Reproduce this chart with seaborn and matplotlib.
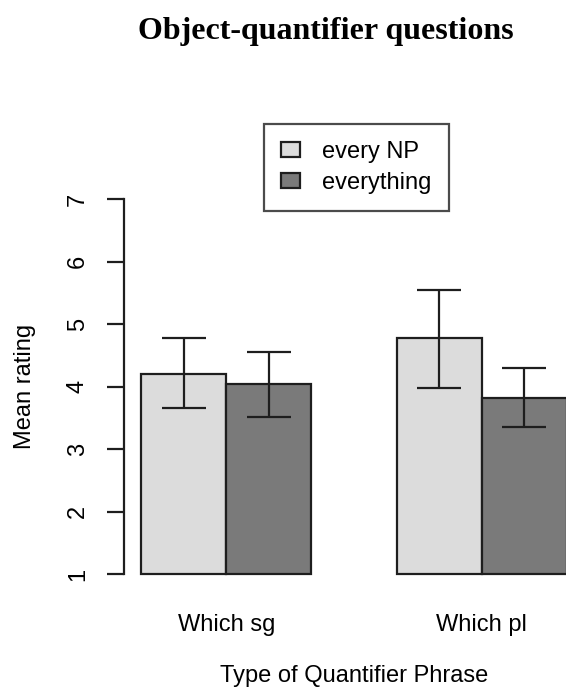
import matplotlib
matplotlib.use("Agg")
import matplotlib.pyplot as plt
from matplotlib.patches import Patch
import seaborn as sns
import pandas as pd
import numpy as np

# ---- data ----
phrase_types = ["Which sg", "Which pl"]
quantifiers = ["every NP", "everything"]
mean_every_np = [4.20, 4.77]
mean_everything = [4.04, 3.81]
lower_every_np = [3.65, 3.97]
upper_every_np = [4.77, 5.54]
lower_everything = [3.52, 3.36]
upper_everything = [4.55, 4.29]
y_ticks = [1, 2, 3, 4, 5, 6, 7]

title = "Object-quantifier questions"
x_label = "Type of Quantifier Phrase"
y_label = "Mean rating"

colors = ["#dcdcdc", "#7a7a7a"]
edge = "#1e1e1e"

rows = []
for q, means, los, his in [(quantifiers[0], mean_every_np, lower_every_np, upper_every_np),
                           (quantifiers[1], mean_everything, lower_everything, upper_everything)]:
    for t, m, lo, hi in zip(phrase_types, means, los, his):
        rows.append({"type": t, "quant": q, "mean": m, "lo": lo, "hi": hi})
df = pd.DataFrame(rows)

sns.set_style("white")
plt.rcParams["font.family"] = ["Liberation Sans", "DejaVu Sans"]
plt.rcParams["text.color"] = "black"
plt.rcParams["axes.labelcolor"] = "black"
plt.rcParams["xtick.color"] = "black"
plt.rcParams["ytick.color"] = "black"
FS = 17

W, H = 566, 689
fig = plt.figure(figsize=(W / 100, H / 100), dpi=100)
# plot region (extends past the right edge like the original)
left_px, right_px = 124, 584
bot_px, top_px = 589, 184
ax = fig.add_axes([left_px / W, 1 - bot_px / H, (right_px - left_px) / W, (bot_px - top_px) / H])

sns.barplot(data=df, x="type", y="mean", hue="quant", hue_order=quantifiers,
            order=phrase_types, palette=colors, width=2 / 3, dodge=True,
            edgecolor=edge, linewidth=1.6, errorbar=None, legend=False, ax=ax,
            saturation=1)

# bars start at the axis baseline of 1
for cont in ax.containers:
    for p in cont:
        h = p.get_height()
        p.set_y(1)
        p.set_height(h - 1)

# error bars
for cont, q in zip(ax.containers, quantifiers):
    sub = df[df["quant"] == q].set_index("type").loc[phrase_types]
    xs = [p.get_x() + p.get_width() / 2 for p in cont]
    m = sub["mean"].values
    ax.errorbar(xs, m, yerr=[m - sub["lo"].values, sub["hi"].values - m], fmt="none",
                ecolor=edge, elinewidth=1.6, capsize=15.8, capthick=1.6, zorder=5)

ax.set_xlim(-0.4, 1.4)
ax.set_ylim(0.76, 7.24)
ax.set_yticks(y_ticks)
ax.set_yticklabels([str(v) for v in y_ticks], rotation=90, va="center", fontsize=FS)
ax.tick_params(axis="y", direction="out", length=12.2, width=1.6, color=edge, pad=13, left=True)
ax.tick_params(axis="x", length=0, pad=18, labelsize=FS)
for s in ["top", "right", "bottom"]:
    ax.spines[s].set_visible(False)
ax.spines["left"].set_bounds(1, 7)
ax.spines["left"].set_linewidth(1.6)
ax.spines["left"].set_color(edge)
ax.set_xlabel(x_label, fontsize=FS, labelpad=21)
ax.set_ylabel("")
ax.grid(False)

fig.text(25 / W, 1 - 386 / H, y_label, rotation=90, ha="center", va="center", fontsize=FS)
fig.text(326 / W, 1 - 31 / H, title, ha="center", va="center", fontsize=23,
         fontweight="bold", family=["Liberation Serif", "DejaVu Serif"])

handles = [Patch(facecolor=c, edgecolor=edge, linewidth=1.6) for c in colors]
leg = fig.legend(handles, quantifiers, loc="upper left",
                 bbox_to_anchor=(264 / W, 1 - 124 / H), borderaxespad=0,
                 fontsize=FS, frameon=True, fancybox=False, edgecolor=edge,
                 handlelength=0.8, handleheight=0.6, handletextpad=0.95,
                 borderpad=0.72, labelspacing=0.36)
leg.get_frame().set_linewidth(1.6)

fig.savefig("out.png", dpi=100)
